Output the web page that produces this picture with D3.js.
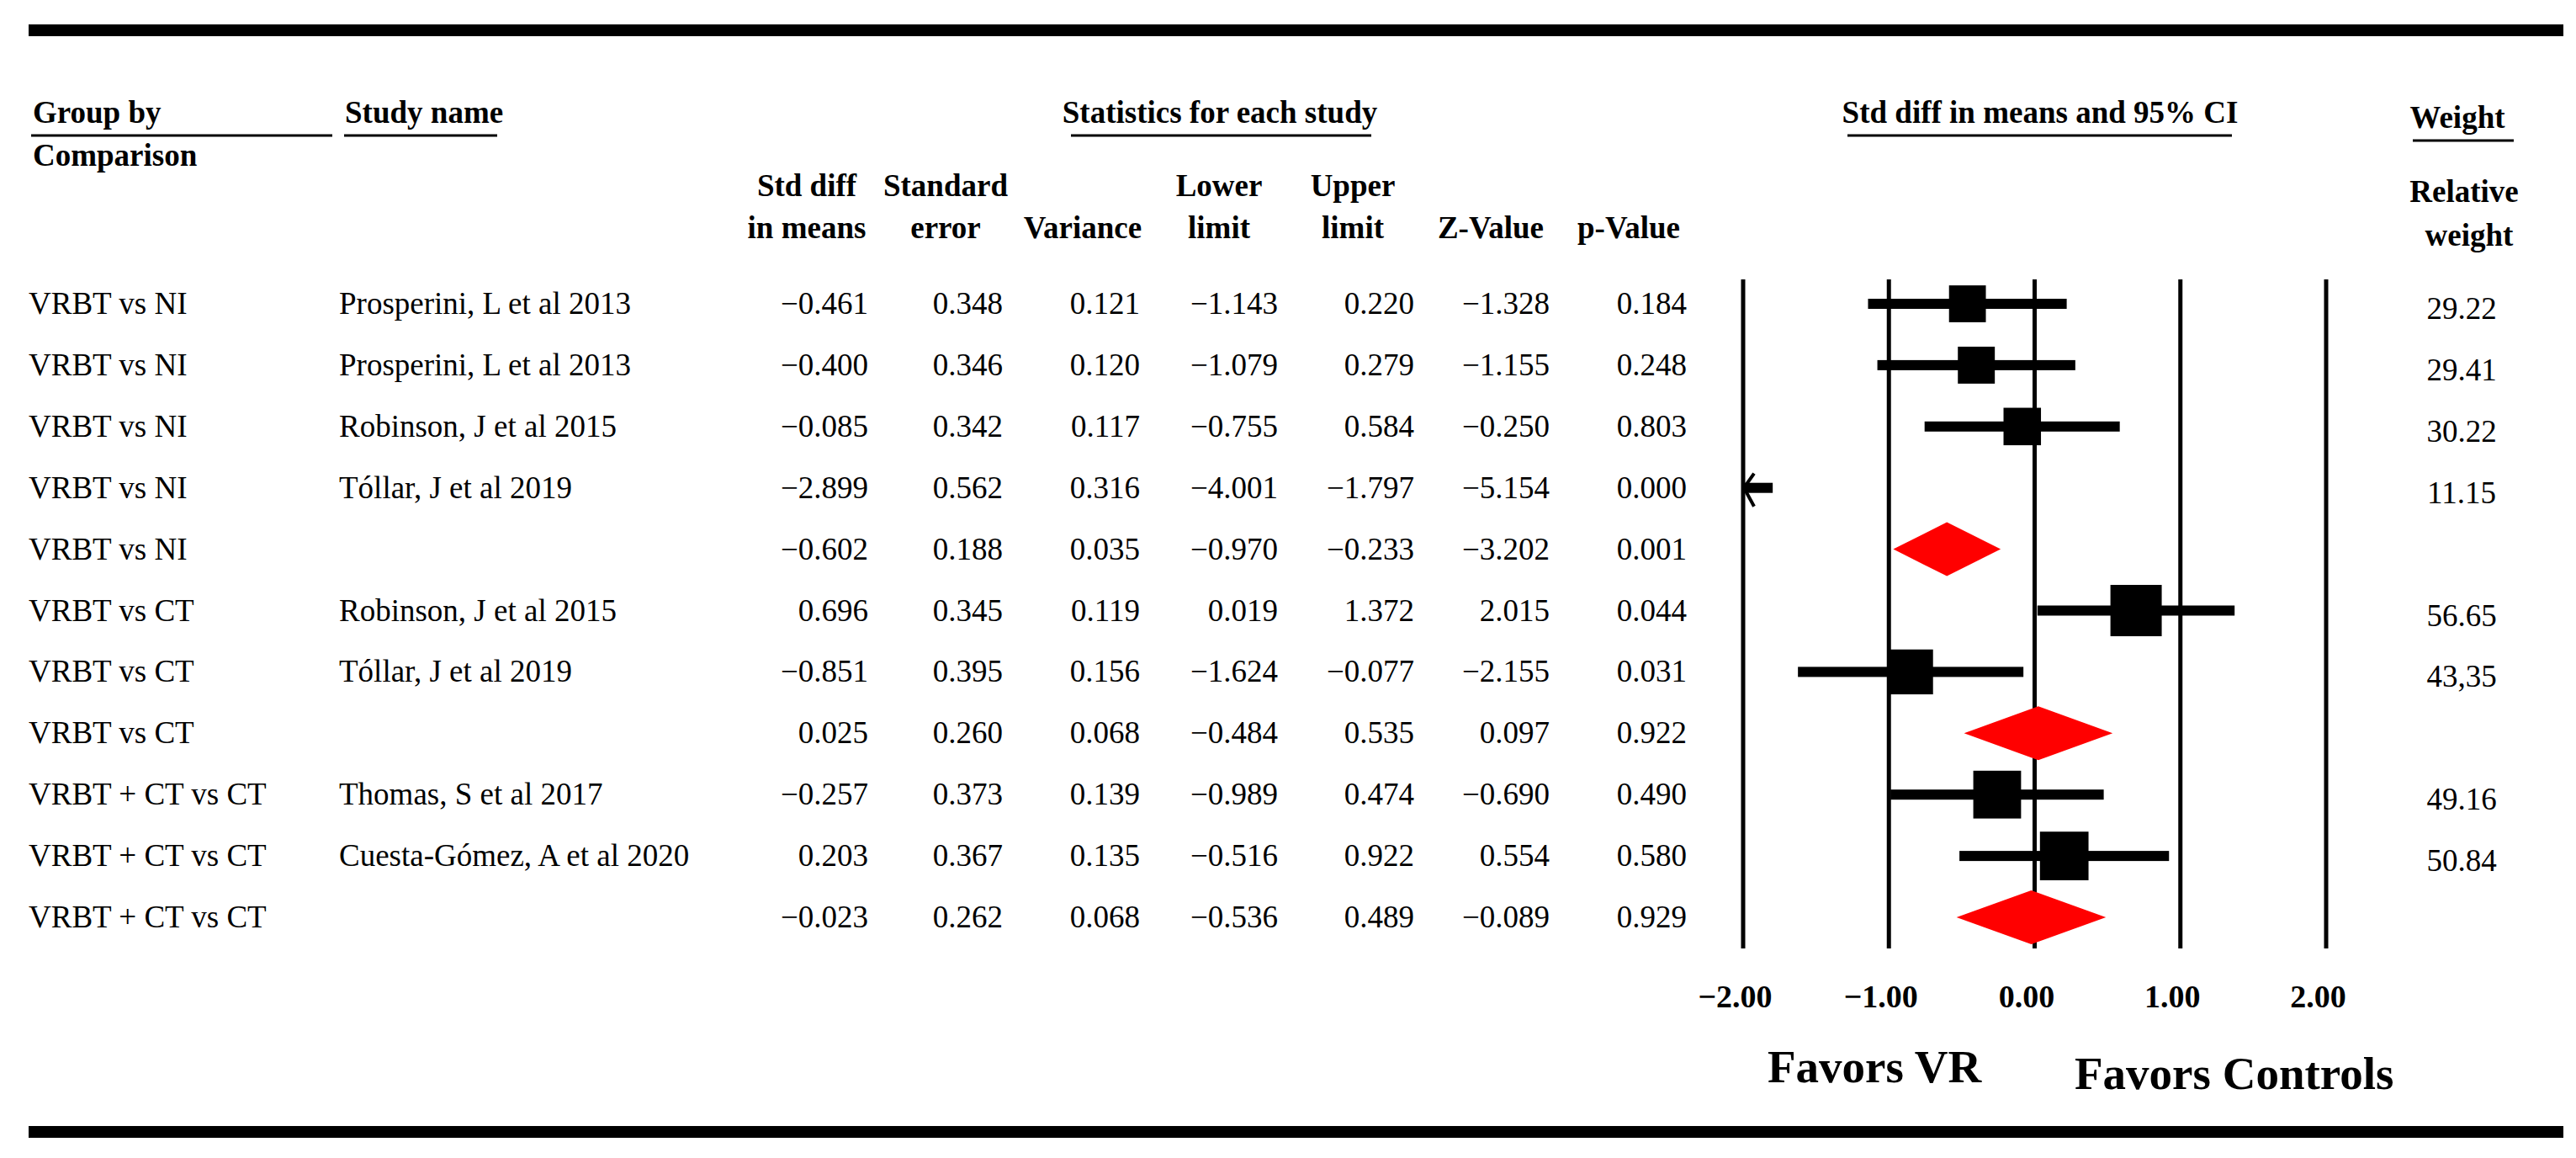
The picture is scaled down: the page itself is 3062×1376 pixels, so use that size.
<!DOCTYPE html>
<html>
<head>
<meta charset="utf-8">
<script src="https://cdn.jsdelivr.net/npm/d3@7"></script>
<style>
  html, body { margin: 0; padding: 0; background: #fff; }
  svg { display: block; }
  text { font-family: "Liberation Serif", "Times New Roman", serif; fill: #000; }
</style>
</head>
<body>
<svg id="chart" width="3062" height="1376"></svg>
<script>
// ---------------- data ----------------
const groups = ["VRBT vs NI","VRBT vs NI","VRBT vs NI","VRBT vs NI","VRBT vs NI",
                "VRBT vs CT","VRBT vs CT","VRBT vs CT",
                "VRBT + CT vs CT","VRBT + CT vs CT","VRBT + CT vs CT"];
const studies = ["Prosperini, L et al 2013","Prosperini, L et al 2013","Robinson, J et al 2015","Tóllar, J et al 2019","",
                 "Robinson, J et al 2015","Tóllar, J et al 2019","",
                 "Thomas, S et al 2017","Cuesta-Gómez, A et al 2020",""];
const stdDiff    = [-0.461,-0.400,-0.085,-2.899,-0.602, 0.696,-0.851, 0.025,-0.257, 0.203,-0.023];
const stdErr     = [ 0.348, 0.346, 0.342, 0.562, 0.188, 0.345, 0.395, 0.260, 0.373, 0.367, 0.262];
const variance   = [ 0.121, 0.120, 0.117, 0.316, 0.035, 0.119, 0.156, 0.068, 0.139, 0.135, 0.068];
const lowerLimit = [-1.143,-1.079,-0.755,-4.001,-0.970, 0.019,-1.624,-0.484,-0.989,-0.516,-0.536];
const upperLimit = [ 0.220, 0.279, 0.584,-1.797,-0.233, 1.372,-0.077, 0.535, 0.474, 0.922, 0.489];
const zValue     = [-1.328,-1.155,-0.250,-5.154,-3.202, 2.015,-2.155, 0.097,-0.690, 0.554,-0.089];
const pValue     = [ 0.184, 0.248, 0.803, 0.000, 0.001, 0.044, 0.031, 0.922, 0.490, 0.580, 0.929];
const relWeight  = [29.22, 29.41, 30.22, 11.15, null, 56.65, 43.35, null, 49.16, 50.84, null];
const weightLabels = ["29.22","29.41","30.22","11.15","","56.65","43,35","","49.16","50.84",""];
const xTicks = [-2, -1, 0, 1, 2];
const xTickLabels = ["−2.00","−1.00","0.00","1.00","2.00"];

// ---------------- layout ----------------
const svg = d3.select("#chart");
const fmt = d3.format(".3f");
const FS = 37;

const rows = d3.range(groups.length);
const y = d3.scalePoint().domain(rows).range([361, 1090]);
const x = d3.scaleLinear().domain([-2, 2]).range([2072, 2765]);

// thick rules
svg.append("rect").attr("x", 34).attr("y", 29).attr("width", 3013).attr("height", 14).attr("fill", "#000");
svg.append("rect").attr("x", 34).attr("y", 1338).attr("width", 3013).attr("height", 14).attr("fill", "#000");

// top headers with underlines
function header(txt, xPos, base, anchor, ux1, ux2, uy) {
  svg.append("text").attr("x", xPos).attr("y", base).attr("text-anchor", anchor)
     .attr("font-size", FS).attr("font-weight", "bold").text(txt);
  if (ux1 != null) {
    svg.append("line").attr("x1", ux1).attr("x2", ux2).attr("y1", uy).attr("y2", uy)
       .attr("stroke", "#000").attr("stroke-width", 3);
  }
}
header("Group by", 39, 146, "start", 37, 395, 161);
header("Study name", 410, 146, "start", 409, 591, 161);
header("Statistics for each study", 1450, 146, "middle", 1273, 1630, 161);
header("Std diff in means and 95% CI", 2425, 146, "middle", 2196, 2653, 161);
header("Weight", 2921, 152, "middle", 2868, 2988, 167);
header("Comparison", 39, 197, "start");

// column headers
const colHeads = [
  {l1: "Std diff", l2: "in means", cx: 959},
  {l1: "Standard", l2: "error", cx: 1124},
  {l1: "", l2: "Variance", cx: 1287},
  {l1: "Lower", l2: "limit", cx: 1449},
  {l1: "Upper", l2: "limit", cx: 1608},
  {l1: "", l2: "Z-Value", cx: 1772},
  {l1: "", l2: "p-Value", cx: 1936}
];
colHeads.forEach(h => {
  if (h.l1) header(h.l1, h.cx, 233, "middle");
  header(h.l2, h.cx, 283, "middle");
});
header("Relative", 2929, 240, "middle");
header("weight", 2935, 292, "middle");

// table body
const numCols = [stdDiff, stdErr, variance, lowerLimit, upperLimit, zValue, pValue];
const colRight = [1032, 1192, 1355, 1519, 1681, 1842, 2005];

const body = svg.append("g");
rows.forEach(i => {
  const base = y(i) + 12;
  body.append("text").attr("x", 34).attr("y", base).attr("font-size", FS).text(groups[i]);
  if (studies[i]) body.append("text").attr("x", 403).attr("y", base).attr("font-size", FS).text(studies[i]);
  numCols.forEach((col, c) => {
    body.append("text").attr("x", colRight[c]).attr("y", base).attr("text-anchor", "end")
        .attr("font-size", FS).text(fmt(col[i]));
  });
  if (weightLabels[i]) body.append("text").attr("x", 2926).attr("y", base + 6)
        .attr("text-anchor", "middle").attr("font-size", FS).text(weightLabels[i]);
});

// forest plot: vertical reference lines
const plot = svg.append("g");
plot.selectAll("line.grid").data(xTicks).join("line").attr("class", "grid")
  .attr("x1", d => x(d)).attr("x2", d => x(d))
  .attr("y1", 332).attr("y2", 1127)
  .attr("stroke", "#000").attr("stroke-width", 5);

// axis tick labels
const axis = d3.axisBottom(x).tickValues(xTicks).tickSize(0).tickPadding(0)
  .tickFormat((d, i) => xTickLabels[i]);
const ax = svg.append("g").attr("transform", "translate(-10,1170)").call(axis);
ax.select(".domain").remove();
ax.selectAll("text").attr("font-size", 38).attr("font-weight", "bold")
  .attr("font-family", "Liberation Serif, serif").attr("fill", "#000").attr("dy", "0.71em");

const [xmin, xmax] = x.domain();
const k = 8.1;
rows.forEach(i => {
  const cy = y(i);
  const isSummary = !studies[i];
  if (isSummary) {
    const h = 32;
    const pts = [[x(lowerLimit[i]), cy], [x(stdDiff[i]), cy - h], [x(upperLimit[i]), cy], [x(stdDiff[i]), cy + h]];
    plot.append("polygon").attr("points", pts.map(p => p.join(",")).join(" ")).attr("fill", "#ff0000");
    return;
  }
  const lo = Math.max(lowerLimit[i], xmin), hi = Math.min(upperLimit[i], xmax);
  plot.append("rect").attr("x", x(lo)).attr("y", cy - 6).attr("width", x(hi) - x(lo)).attr("height", 12).attr("fill", "#000");
  if (lowerLimit[i] < xmin) {
    const tx = x(xmin) + 1;
    plot.append("path").attr("d", `M${tx + 12},${cy - 17} L${tx},${cy} L${tx + 12},${cy + 22}`)
      .attr("fill", "none").attr("stroke", "#000").attr("stroke-width", 4);
  }
  if (stdDiff[i] >= xmin && stdDiff[i] <= xmax) {
    const s = k * Math.sqrt(relWeight[i]);
    plot.append("rect").attr("x", x(stdDiff[i]) - s / 2).attr("y", cy - s / 2)
      .attr("width", s).attr("height", s).attr("fill", "#000");
  }
});

// favours labels
svg.append("text").attr("x", 2101).attr("y", 1286).attr("font-size", 55).attr("font-weight", "bold").text("Favors VR");
svg.append("text").attr("x", 2466).attr("y", 1294).attr("font-size", 55).attr("font-weight", "bold").text("Favors Controls");
</script>
</body>
</html>
